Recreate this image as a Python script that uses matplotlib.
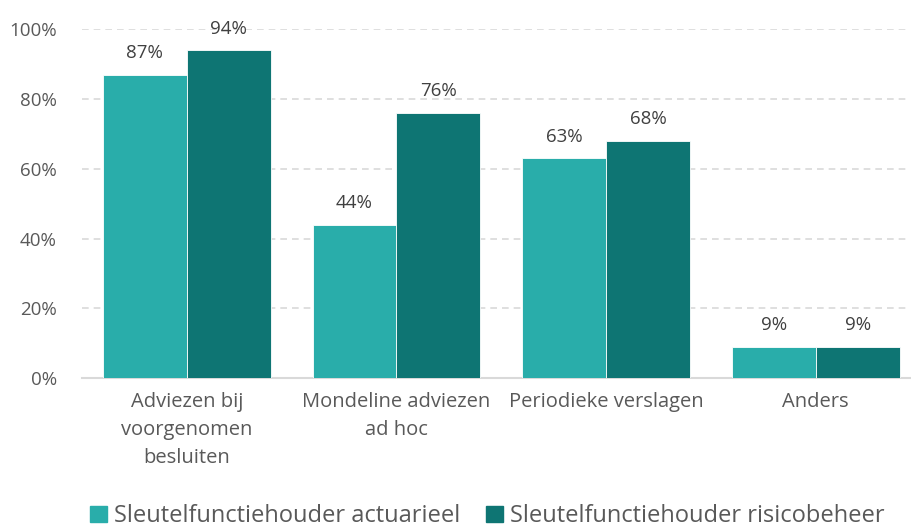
import numpy as np
import matplotlib.pyplot as plt
from matplotlib.patches import Patch

plt.rcParams['font.family'] = ['Open Sans', 'DejaVu Sans']

categories = ['Adviezen bij\nvoorgenomen\nbesluiten', 'Mondeline adviezen\nad hoc',
              'Periodieke verslagen', 'Anders']
series_names = ['Sleutelfunctiehouder actuarieel', 'Sleutelfunctiehouder risicobeheer']
actuarieel = [87, 44, 63, 9]
risicobeheer = [94, 76, 68, 9]
yticks = [0, 20, 40, 60, 80, 100]

teal = '#29ADAA'
dark_teal = '#0E7573'
grey_text = '#595959'

fig = plt.figure(figsize=(9.11, 5.31), dpi=100)
ax = fig.add_axes([0.09, 0.288, 0.909, 0.657])

x = np.arange(len(categories))
w = 0.4
b1 = ax.bar(x - w / 2, actuarieel, w, color=teal, edgecolor='white', linewidth=0.6, zorder=3)
b2 = ax.bar(x + w / 2, risicobeheer, w, color=dark_teal, edgecolor='white', linewidth=0.6, zorder=3)

# percentage labels above each bar
for bars, vals in [(b1, actuarieel), (b2, risicobeheer)]:
    for bar, v in zip(bars, vals):
        ax.annotate(f'{v}%', (bar.get_x() + bar.get_width() / 2, v),
                    xytext=(0, 9), textcoords='offset points', ha='center', va='bottom',
                    fontsize=13.5, color='#404040')

ax.set_xlim(-0.5, 3.45)
ax.set_ylim(0, 100)
ax.set_yticks(yticks)
ax.set_yticklabels([f'{t}%' for t in yticks])
ax.set_xticks(x)
ax.set_xticklabels(categories, linespacing=1.55)
ax.tick_params(axis='y', length=0, pad=18, labelsize=13.5, labelcolor=grey_text)
ax.tick_params(axis='x', length=0, pad=10, labelsize=14.5, labelcolor=grey_text)

ax.yaxis.grid(True, color='#D9D9D9', linestyle=(0, (4, 3)), linewidth=1.2, zorder=0)
for s in ['top', 'right', 'left']:
    ax.spines[s].set_visible(False)
ax.spines['bottom'].set_color('#D9D9D9')
ax.spines['bottom'].set_linewidth(1.5)

handles = [Patch(color=teal), Patch(color=dark_teal)]
fig.legend(handles, series_names, loc='center', bbox_to_anchor=(0.535, 0.028), ncol=2,
           frameon=False, fontsize=17, labelcolor=grey_text, handlelength=0.7,
           handleheight=0.7, handletextpad=0.3, columnspacing=1.1)

fig.savefig('out.png', dpi=100)
